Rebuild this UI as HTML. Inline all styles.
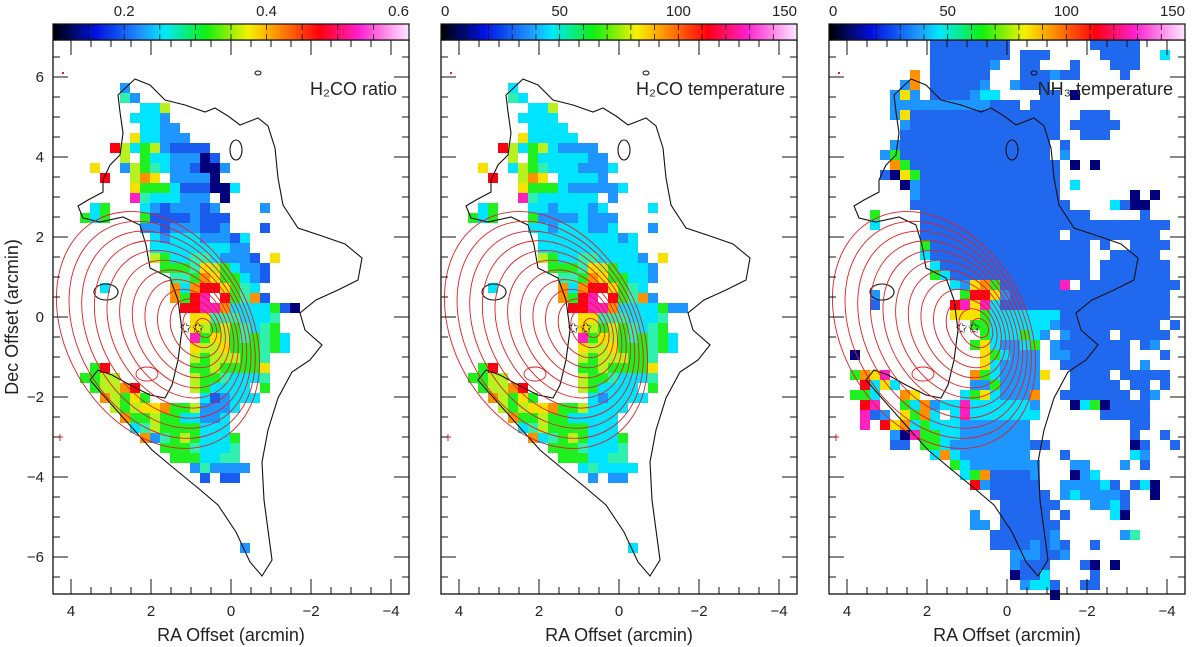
<!DOCTYPE html>
<html><head><meta charset="utf-8"><style>
html,body{margin:0;padding:0;background:#fff}
svg{display:block}
text{font-family:"Liberation Sans",sans-serif;fill:#222}
</style></head><body>
<svg id="fig" width="1200" height="647" viewBox="0 0 1200 647" xmlns="http://www.w3.org/2000/svg">
<defs>
<linearGradient id="cmap" x1="0" x2="1" y1="0" y2="0">
<stop offset="0" stop-color="#000000"/><stop offset="0.12" stop-color="#0010e0"/>
<stop offset="0.25" stop-color="#1e96ff"/><stop offset="0.31" stop-color="#00e8ff"/>
<stop offset="0.43" stop-color="#10f010"/><stop offset="0.55" stop-color="#f8f000"/>
<stop offset="0.63" stop-color="#ff9000"/><stop offset="0.75" stop-color="#ff0010"/>
<stop offset="0.86" stop-color="#ff20d0"/><stop offset="1" stop-color="#ffe8ff"/>
</linearGradient>
</defs>
<g id="layers"></g>
</svg>
<script>
// ---- data ----
const panelNames = ["h2co-ratio","h2co-temperature","nh3-temperature"];
const panelTitles = ["H₂CO ratio","H₂CO temperature","NH₃ temperature"];
const colorbarTicks1 = [0.2,0.4,0.6];
const colorbarRange1 = [0.1,0.6];
const colorbarTicks2 = [0,50,100,150];
const colorbarRange2 = [0,150];
const xTickValues = [4,2,0,-2,-4];
const yTickValues = [6,4,2,0,-2,-4,-6];
const ratioRuns = [
"0:4c","1:4t 5c","2:6C 7C 8y","3:5-7C 8c","4:6-7C 8-9c","5:5Y 6-7C 8-10c",
"6:3r 4y 5C 6g 7y 8c 9-12b","7:4y 6g 7-8C 9-11c 12B 13b","8:1Y 4c 5y 6g 7t 8C 9-10c 11b 12-13B 14c",
"9:2r 5y 6o 7Y 9-12c 13B","10:5Y 6-8g 9C 10-12b 13-14B 15C","11:5m 6t 7-9C 10-12c 14B",
"12:1C 2g 6C 7c 8b 9-11c 12b 13c 18c","13:0g 1C 2g 6g 7-10b 11c 12-14b","14:6-7c 8b 9-11c 12-13b 14c 18b",
"15:7C 8c 9-11C 12-14c 15b 16C","16:7-14C 15-16c","17:7y 8g 9-10C 11-12t 13C 14-16c 17b 19Y",
"18:8-10g 11t 12Y 13y 14g 15C 16-17c 18b","19:9-10t 11g 12o 13Y 14-15g 16C 17c 18b",
"20:2C 9o 10C 11o 12-13r 14Y 15g 16t 17C","21:9o 10g 11r 12m 14r 15g 16t 17o 18b",
"22:10-11r 12-13m 14o 15-18C 19g 20b 21B","23:11Y 12Y 13-15t 16-18C 19t",
"24:11Y 12y 13g 14y 15g 16t 17C 18t 19g","25:11m 12g 13Y 14y 15g 16t 17g 18t 19g 20C",
"26:11Y 12-13y 14Y 15-17g 18t 19g 20C","27:11y 12g 13-15y 16-17g 18t","28:1g 2r 11-12g 13y 14-17g 18Y",
"29:0-1g 2-3y 11y 12-13g 14t 15-17C 18t","30:1g 2-3y 4o 5r 11y 12g 13-16C 18g",
"31:2o 3y 4g 5Y 6g 12C 13b 14c 15-17C","32:3y 4g 5y 6Y 7Y 8o 9-10g 11y 12-14c 15C",
"33:4o 5-6g 7y 8-9g 10-11C 12-13c 14C","34:5C 6t 7y 8-11g 12-14C","35:6o 7c 8t 9g 10y 11g 12-14C 15g",
"36:8-10g 11t 12-14C 15t","37:9-11g 12-13C 14-15t","38:11c 12t 13-16c","39:12b 14-15b","46:16c"
];
const tempRemap = {B:"c",b:"c",c:"C"};
const nh3Runs = [
"0:8-15b 24-28b","1:8-15b 17-19b 25-28b 31C","2:8-13b 14c 17-18b 22b 26-28b","3:6o 8-13b 17-19b 20c 21-22b 27b",
"4:5c 6o 8-12b 13c 16c 17-19b","5:4c 5Y 6c 8-11b 12c 13-14C 19-20b 22B","6:4-5c 6-13c 14-16b 18-20b",
"7:4c 5Y 6-20b 23-25b","8:5c 6-20b 22-26b","9:5-20b 23-25b","10:4c 5-19b 21b","11:3c 4g 5-19b 21c",
"12:4o 5g 6-20b 22B 24B","13:3b 4B 5Y 6g 7-20b","14:5B 6c 7-20b 22C","15:6c 7-20b 28B 30B",
"16:6-21b 26C 27b 28-29B","17:2g 7-23b 29b","18:2C 7-31b","19:7-20b 22-30b","20:7g 8-23b 25b 28-31b",
"21:7C 8-23b 26-30b","22:8C 9-23b 25-31b","23:8g 9C 10-23b 25-31b","24:10C 11c 12Y 13o 14g 15-20b 21m 23-32b",
"25:2c 11g 12-13r 14Y 15c 16-31b","26:2b 10r 11m 12Y 13m 14C 15-31b","27:10-12Y 13g 14-20C 21-31b",
"28:12-13g 14-19C 20c 21-30b 32b","29:13g 14-16C 17g 18C 19c 21c 22-25b 27-31b",
"30:12g 13Y 14C 15-16c 17C 18g 20c 21-27b 29b 30c","31:0B 13Y 14g 15C 16-18c 20-21c 22-27b 31b",
"32:13Y 14C 15-18c 21-27b 29c","33:0g 1o 2Y 3m 12o 13g 14C 15-18c 19Y 22-25b 27-31b",
"34:1r 2C 3Y 4C 12-13c 14g 15-18c 22-26b 28-29b 31b","35:0-1g 2C 5o 6Y 11C 12g 13Y 14C 15-17c 18o 21-27b 29b 30c",
"36:1r 2m 5g 6C 7o 8c 9-10C 11m 12-17C 18c 22B 23C 24g 25B 26-29b","37:1m 2b 3c 5Y 6g 7o 8C 10C 11m 12-18C 25-29b",
"38:1m 3r 4Y 5o 6C 7g 8-10C 11-17c 28-29b","39:4c 5B 6m 7-8g 9-10C 11-17c 28b 31b",
"40:4-5b 7-8g 9C 10-17c 18-19b 28B 29b 32b","41:8C 9o 10C 11-17c 21b 28C 29c","42:10g 11C 12-18c 22-23c 27c 29b",
"43:11C 12g 13o 14-17b 18c 22B 23c 24C","44:12r 13c 14-18b 21-24c 25C 26b 28b 29C 30B",
"45:14-19b 21c 22C 23-26c 27b 30B","46:15-20b 24-25c 26C 27b","47:12c 15-19b 21b 26C 27B","48:12-13c 15-20b",
"49:14-19b 20c 27c 28t","50:14-17b 18c 19b 20c 21b 24b","51:16-18c 19-20b 21c","52:16c 17-19b 23b 24B 26B",
"53:16B 17-18b 19C 24b","54:17c 18-19C 20b 23-24b","55:20B"
];
const cellColors = {B:"#00007a",b:"#1a5cf0",c:"#1e96ff",C:"#00e4ff",t:"#30f0b0",g:"#20f020",y:"#b8f020",Y:"#f8e000",o:"#ff9000",r:"#ff0010",m:"#ff20c0"};
const nh3Colors = {b:"#2068ee"};

// ---- layout ----
const NS="http://www.w3.org/2000/svg";
const root=document.getElementById("layers");
const panelX=[53,441,829], PW=356, PT=40, PB=594;
function mk(tag,attrs,parent){const e=document.createElementNS(NS,tag);for(const k in attrs)e.setAttribute(k,attrs[k]);(parent||root).appendChild(e);return e;}
function xPix(p,v){return panelX[p]+178-v*40;}
function yPix(v){return 317-v*40;}

function drawRuns(runs,x0,y0,cell,remap,g,over){
  runs.forEach(line=>{
    const [rs,rest]=line.split(":");const r=+rs;
    rest.trim().split(/\s+/).forEach(tok=>{
      const code=tok.slice(-1);const rng=tok.slice(0,-1).split("-");
      const a=+rng[0],b=rng.length>1?+rng[1]:a;
      const cc=remap&&remap[code]?remap[code]:code;
      const col=(over&&over[cc])||cellColors[cc];
      const rc=mk("rect",{x:x0+a*cell,y:y0+r*cell,width:(b-a+1)*cell,height:cell,fill:col},g);
      
      
    });
  });
}

const blackPath="M118,95 L135,79 150,85 165,100 185,105 205,112 215,108 228,116 240,125 258,118 268,126 275,148 278,178 283,205 298,228 322,236 345,244 362,258 358,280 338,290 316,300 300,313 305,330 322,345 310,360 292,372 278,398 268,430 262,462 264,500 268,530 272,560 262,576 250,562 236,532 218,505 198,488 176,470 152,450 127,422 104,396 90,380 98,370 112,375 130,385 150,395 165,398 172,385 178,360 182,330 178,300 170,278 150,268 146,245 140,225 123,217 100,222 83,218 78,206 88,200 103,192 103,180 110,165 120,155 123,133 120,112 Z";

for(let p=0;p<3;p++){
  const g=mk("g",{});
  
  
  const px=panelX[p];
  const mapG=mk("g",{},g);
  
  
  if(p<2) drawRuns(ratioRuns,px+27,83,10,p==1?tempRemap:null,mapG,null);
  else drawRuns(nh3Runs,px+21,40,10,null,mapG,nh3Colors);
  const cg=mk("g",{transform:`translate(${px-53},0)`,fill:"none"},g);
  
  
  mk("path",{d:blackPath,stroke:"#111","stroke-width":1.1},cg);
  mk("ellipse",{cx:236,cy:150,rx:6,ry:10,stroke:"#111","stroke-width":1.1},cg);
  mk("ellipse",{cx:106,cy:292,rx:12,ry:8,stroke:"#111","stroke-width":1.1},cg);
  mk("ellipse",{cx:258,cy:73,rx:3,ry:2,stroke:"#111","stroke-width":1},cg);
  for(let k=0;k<12;k++){
    const f=k/11;
    const cx=158+f*46, cy=330-f*2, rx=92-f*84, ry=126-f*116;
    mk("ellipse",{cx:cx,cy:cy,rx:rx,ry:ry,transform:`rotate(-30 ${cx} ${cy})`,stroke:"#e02020","stroke-width":0.9},cg);
  }
  mk("ellipse",{cx:147,cy:374,rx:11,ry:7,stroke:"#e02020","stroke-width":0.9},cg);
  mk("rect",{x:62,y:72,width:2,height:2,fill:"#e02020"},cg);
  mk("path",{d:"M57,437 h6 M60,434 v7",stroke:"#e02020","stroke-width":1},cg);
  const st=mk("text",{x:px+126,y:333,"font-size":15,fill:"#111"},g);st.textContent="✩✩";
  
  
  const fr=mk("rect",{x:px,y:PT,width:PW,height:PB-PT,fill:"none",stroke:"#111","stroke-width":1.3},g);
  
  
  for(let v=-4.5;v<=4.5;v+=0.5){
    const x=xPix(p,v); if(x<px||x>px+PW) continue;
    const L=(v%2===0)?15:7;
    mk("path",{d:`M${x},${PB} v${-L} M${x},${PT} v${L}`,stroke:"#111","stroke-width":1},g);
  }
  for(let v=-7;v<=7;v+=0.5){
    const y=yPix(v); if(y<PT||y>PB) continue;
    const L=(v%2===0)?15:7;
    mk("path",{d:`M${px},${y} h${L} M${px+PW},${y} h${-L}`,stroke:"#111","stroke-width":1},g);
  }
  xTickValues.forEach(v=>{const t=mk("text",{x:xPix(p,v),y:616,"font-size":15,"text-anchor":"middle"},g);t.textContent=v<0?"−"+(-v):v;
    
    });
  const xt=mk("text",{x:px+178,y:641,"font-size":18,"text-anchor":"middle"},g);xt.textContent="RA Offset (arcmin)";
  
  
  const tt=mk("text",{x:px+PW-12,y:95,"font-size":18,"text-anchor":"end"},g);tt.textContent=panelTitles[p];
  
  
  const cb=mk("rect",{x:px,y:24,width:PW,height:16,fill:"url(#cmap)",stroke:"#111","stroke-width":1.2},g);
  
  
  const rng=p==0?colorbarRange1:colorbarRange2, ticks=p==0?colorbarTicks1:colorbarTicks2;
  const step=p==0?0.05:10;
  for(let v=rng[0]+step;v<rng[1]-1e-9;v+=step){
    const x=px+(v-rng[0])/(rng[1]-rng[0])*PW;
    mk("path",{d:`M${x},40 v-6 M${x},24 v6`,stroke:"#111","stroke-width":0.8},g);
  }
  ticks.forEach(v=>{const x=px+(v-rng[0])/(rng[1]-rng[0])*PW;
    const t=mk("text",{x:x,y:16,"font-size":15,"text-anchor":(x>px+PW-5)?"end":(x<px+5?"start":"middle")},g);t.textContent=v;
    
    });
}
yTickValues.forEach(v=>{const t=mk("text",{x:44,y:yPix(v)+5,"font-size":15,"text-anchor":"end"});t.textContent=v<0?"−"+(-v):v;
  
  });
const yt=mk("text",{x:18,y:317,"font-size":18,"text-anchor":"middle",transform:"rotate(-90 18 317)"});yt.textContent="Dec Offset (arcmin)";


</script>
</body></html>
